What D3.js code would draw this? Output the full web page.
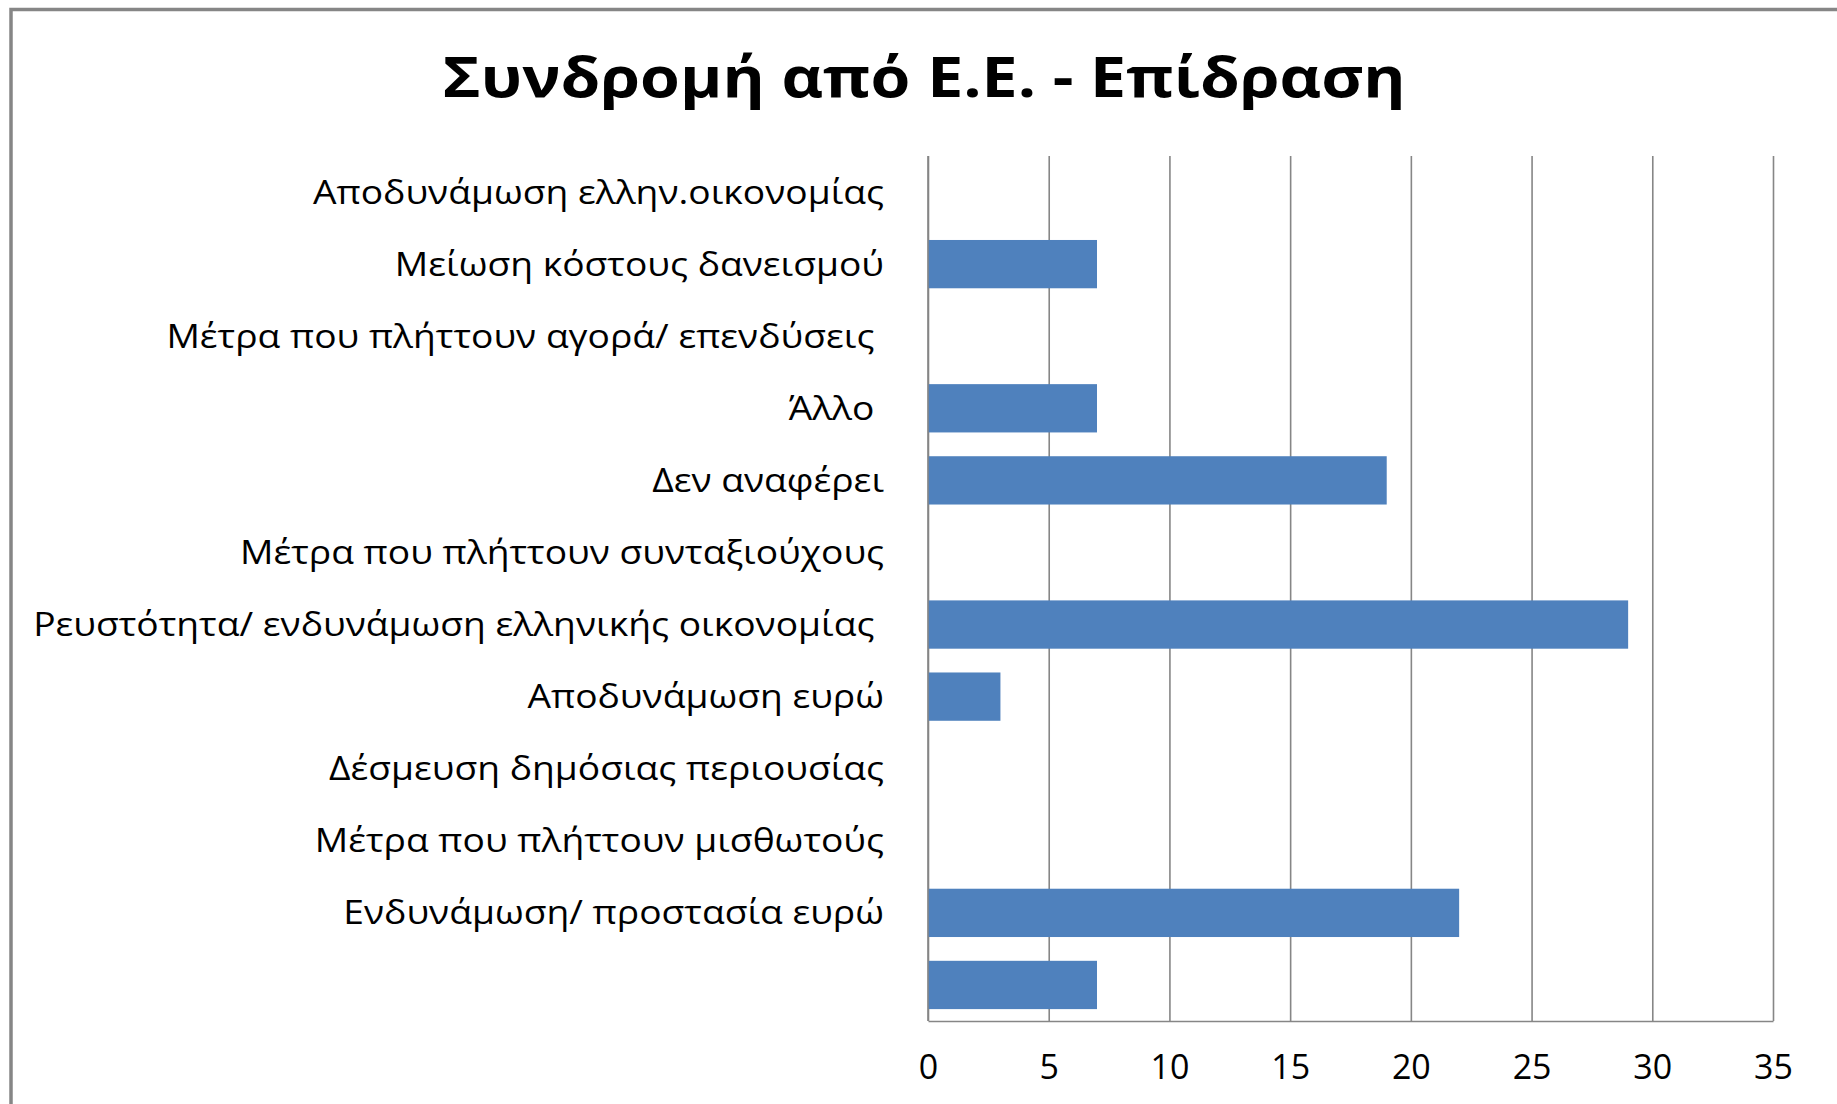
<!DOCTYPE html>
<html>
<head>
<meta charset="utf-8">
<script src="https://cdn.jsdelivr.net/npm/d3@7"></script>
<style>
  html, body { margin: 0; padding: 0; background: #fff; overflow: hidden; }
  svg { display: block; }
  text { font-family: "Open Sans", "Noto Sans", sans-serif; fill: #000; }
</style>
</head>
<body>
<script>
const categories = [
  "Αποδυνάμωση ελλην.οικονομίας",
  "Μείωση κόστους δανεισμού",
  "Μέτρα που πλήττουν αγορά/ επενδύσεις ",
  "Άλλο ",
  "Δεν αναφέρει",
  "Μέτρα που πλήττουν συνταξιούχους",
  "Ρευστότητα/ ενδυνάμωση ελληνικής οικονομίας ",
  "Αποδυνάμωση ευρώ",
  "Δέσμευση δημόσιας περιουσίας",
  "Μέτρα που πλήττουν μισθωτούς",
  "Ενδυνάμωση/ προστασία ευρώ",
  ""
];
const values = [0, 7, 0, 7, 19, 0, 29, 3, 0, 0, 22, 7];
const xTicks = [0, 5, 10, 15, 20, 25, 30, 35];
const titleText = "Συνδρομή από Ε.Ε. - Επίδραση";

const W = 1837, H = 1104;
const plot = { left: 928, right: 1773, top: 156, bottom: 1021 };

const svg = d3.select("body").append("svg").attr("width", W).attr("height", H);

// outer chart border (extends beyond the visible page on right/bottom)
svg.append("rect")
  .attr("x", 11).attr("y", 9.5)
  .attr("width", W + 20).attr("height", H + 20)
  .attr("fill", "none").attr("stroke", "#868686").attr("stroke-width", 3.5);

// title
svg.append("text")
  .attr("x", 924).attr("y", 97)
  .attr("text-anchor", "middle")
  .attr("font-size", 56).attr("font-weight", 700)
  .attr("textLength", 963).attr("lengthAdjust", "spacingAndGlyphs")
  .text(titleText);

const x = d3.scaleLinear().domain([0, 35]).range([plot.left, plot.right]);
const y = d3.scaleBand().domain(d3.range(categories.length))
  .range([plot.top, plot.bottom]).paddingInner(0.33).paddingOuter(0.165);

// x axis with gridlines
const xAxis = svg.append("g")
  .attr("transform", `translate(0,${plot.bottom})`)
  .call(d3.axisBottom(x).tickValues(xTicks).tickFormat(d3.format("d"))
    .tickSize(-(plot.bottom - plot.top)).tickSizeOuter(0).tickPadding(34));
xAxis.selectAll("line").attr("stroke", "#868686").attr("stroke-width", 1.6);
xAxis.select(".domain").attr("stroke", "#868686").attr("stroke-width", 1.6);
xAxis.selectAll("text")
  .attr("font-size", 34).attr("fill", "#000")
  .style("font-family", '"Open Sans", sans-serif');

// bars
svg.append("g").selectAll("rect")
  .data(values)
  .join("rect")
  .attr("x", x(0))
  .attr("y", (d, i) => y(i))
  .attr("width", d => x(d) - x(0))
  .attr("height", y.bandwidth())
  .attr("fill", "#4F81BD");

// left vertical line (axis at 0) on top
svg.append("line")
  .attr("x1", x(0)).attr("x2", x(0))
  .attr("y1", plot.top).attr("y2", plot.bottom)
  .attr("stroke", "#868686").attr("stroke-width", 1.6);

// category labels
const yAxis = svg.append("g")
  .attr("transform", `translate(${plot.left},0)`)
  .call(d3.axisLeft(y).tickFormat(i => categories[i]).tickSize(0).tickPadding(44));
yAxis.select(".domain").remove();
const labels = yAxis.selectAll("text")
  .attr("font-size", 32).attr("fill", "#000")
  .attr("dy", "0.36em")
  .style("white-space", "pre")
  .style("font-family", '"Open Sans", sans-serif');
// condense to match reference width of first label
const refNode = labels.filter(i => i === 0).node();
const k = 571 / refNode.getComputedTextLength();
labels.each(function () {
  const n = this.getComputedTextLength();
  if (n > 0) d3.select(this).attr("textLength", n * k).attr("lengthAdjust", "spacingAndGlyphs");
});
</script>
</body>
</html>
